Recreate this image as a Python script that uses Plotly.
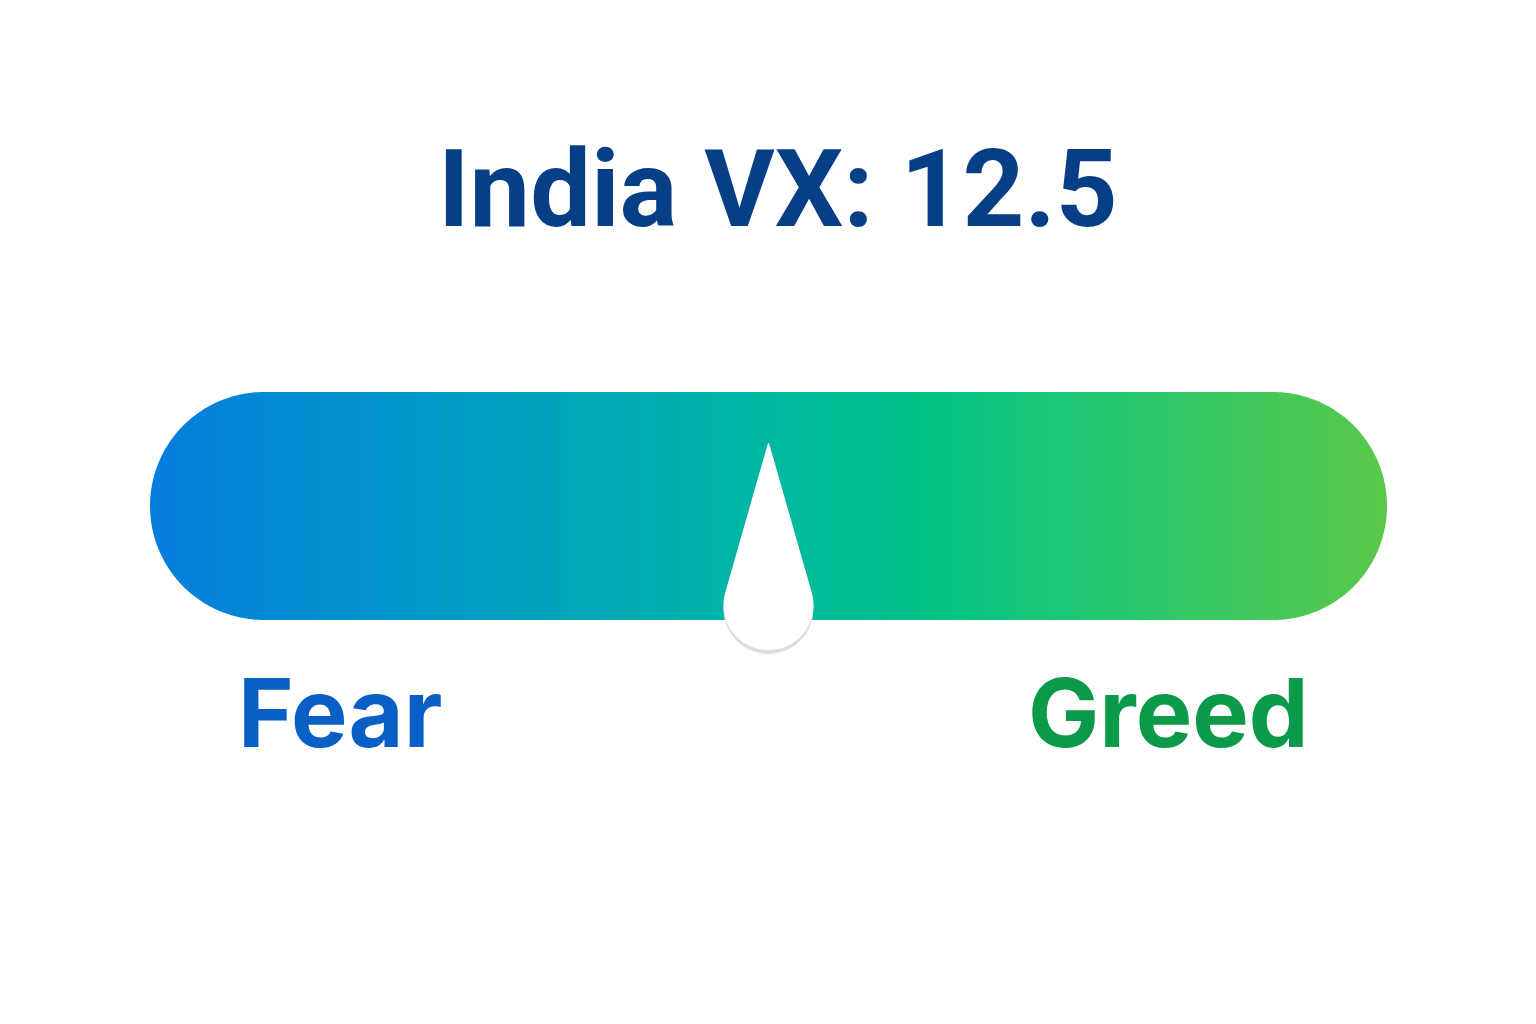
import numpy as np
import plotly.graph_objects as go

# ---- data ----
title_text = "India VX: 12.5"
gauge_min = 0.0
gauge_max = 25.0
gauge_value = 12.5
end_labels = ["Fear", "Greed"]
gradient_stops = [0.0, 0.25, 0.5, 0.62, 0.8, 1.0]
gradient_colors = ["#067ddd", "#009cc6", "#00b8a2", "#00c287", "#2bc86c", "#5ac84a"]

# ---- layout geometry (pixels) ----
W, H = 1536, 1024
bar_left_px, bar_right_px = 150, 1387
bar_top_px, bar_bot_px = 392, 620
px_per_unit = (bar_right_px - bar_left_px) / (gauge_max - gauge_min)
x_lo = gauge_min - bar_left_px / px_per_unit
x_hi = gauge_max + (W - bar_right_px) / px_per_unit

def ux(dpx):
    return dpx / px_per_unit

rad = (bar_bot_px - bar_top_px) / 2.0
yc = (bar_top_px + bar_bot_px) / 2.0

fig = go.Figure()

# gradient bar as heatmap (x and y given as cell edges)
ncol = 620
x_edges = np.linspace(gauge_min, gauge_max, ncol + 1)
x_mid = (x_edges[:-1] + x_edges[1:]) / 2
y_edges = np.array([bar_top_px, bar_bot_px], dtype=float)
z = [((x_mid - gauge_min) / (gauge_max - gauge_min)).tolist()]
cs = [[s, c] for s, c in zip(gradient_stops, gradient_colors)]
fig.add_trace(go.Heatmap(x=x_edges, y=y_edges, z=z, colorscale=cs, zmin=0, zmax=1,
                         zsmooth=False, showscale=False, hoverinfo="skip"))

shapes = []

def arc_pts(cx_u, cy, r_px, a0, a1, n=90):
    pts = []
    for a in np.linspace(a0, a1, n):
        pts.append((cx_u + ux(r_px * np.cos(a)), cy + r_px * np.sin(a)))
    return pts

def path_from(pts):
    s = "M %.5f,%.3f " % pts[0]
    s += " ".join("L %.5f,%.3f" % p for p in pts[1:])
    return s + " Z"

# left cap mask (white outside semicircle)
lcx = gauge_min + ux(rad)
pts = [(gauge_min - ux(3), bar_top_px - 3), (lcx, bar_top_px - 3), (lcx, bar_top_px)]
pts += arc_pts(lcx, yc, rad, -np.pi / 2, -3 * np.pi / 2, 120)
pts += [(lcx, bar_bot_px + 3), (gauge_min - ux(3), bar_bot_px + 3)]
shapes.append(dict(type="path", path=path_from(pts), xref="x", yref="y",
                   fillcolor="white", line=dict(width=0), layer="above"))
rcx = gauge_max - ux(rad)
pts = [(gauge_max + ux(3), bar_top_px - 3), (rcx, bar_top_px - 3), (rcx, bar_top_px)]
pts += arc_pts(rcx, yc, rad, -np.pi / 2, np.pi / 2, 120)
pts += [(rcx, bar_bot_px + 3), (gauge_max + ux(3), bar_bot_px + 3)]
shapes.append(dict(type="path", path=path_from(pts), xref="x", yref="y",
                   fillcolor="white", line=dict(width=0), layer="above"))

# needle
bulb_r = 45
bulb_cy = 605
tip_y = 443
nx_c = gauge_value

def needle_pts():
    d = bulb_cy - tip_y
    half = np.arcsin(bulb_r / d)
    ang_r = -half
    ang_l = -np.pi + half
    p = [(nx_c - ux(1.2), tip_y + 2.5), (nx_c, tip_y - 0.5), (nx_c + ux(1.2), tip_y + 2.5)]
    p += arc_pts(nx_c, bulb_cy, bulb_r, ang_r, ang_l + 2 * np.pi, 100)
    return p

shapes.append(dict(type="circle", xref="x", yref="y",
                   x0=nx_c - ux(bulb_r), x1=nx_c + ux(bulb_r),
                   y0=bulb_cy + 4 - bulb_r, y1=bulb_cy + 4 + bulb_r,
                   fillcolor="#dcdee2", line=dict(width=0), layer="above"))
shapes.append(dict(type="path", path=path_from(needle_pts()), xref="x", yref="y",
                   fillcolor="white", line=dict(width=0), layer="above"))

annotations = [
    dict(text="<b>%s</b>" % title_text, x=gauge_min + ux(628), y=189, xref="x", yref="y",
         showarrow=False, xanchor="center", yanchor="middle",
         font=dict(family="Roboto, sans-serif", size=108, color="#073f86")),
    dict(text="<b>%s</b>" % end_labels[0], x=gauge_min + ux(86), y=712, xref="x", yref="y",
         showarrow=False, xanchor="left", yanchor="middle",
         font=dict(family="Inter, Roboto, sans-serif", size=95, color="#0a5fc6")),
    dict(text="<b>%s</b>" % end_labels[1], x=gauge_max - ux(76), y=712, xref="x", yref="y",
         showarrow=False, xanchor="right", yanchor="middle",
         font=dict(family="Inter, Roboto, sans-serif", size=95, color="#0a9a4a")),
]

fig.update_layout(
    width=W, height=H, margin=dict(l=0, r=0, t=0, b=0),
    paper_bgcolor="white", plot_bgcolor="white",
    xaxis=dict(range=[x_lo, x_hi], visible=False, fixedrange=True),
    yaxis=dict(range=[H, 0], visible=False, fixedrange=True),
    shapes=shapes, annotations=annotations, showlegend=False,
)
fig.write_html("out.html", config={"displayModeBar": False})
